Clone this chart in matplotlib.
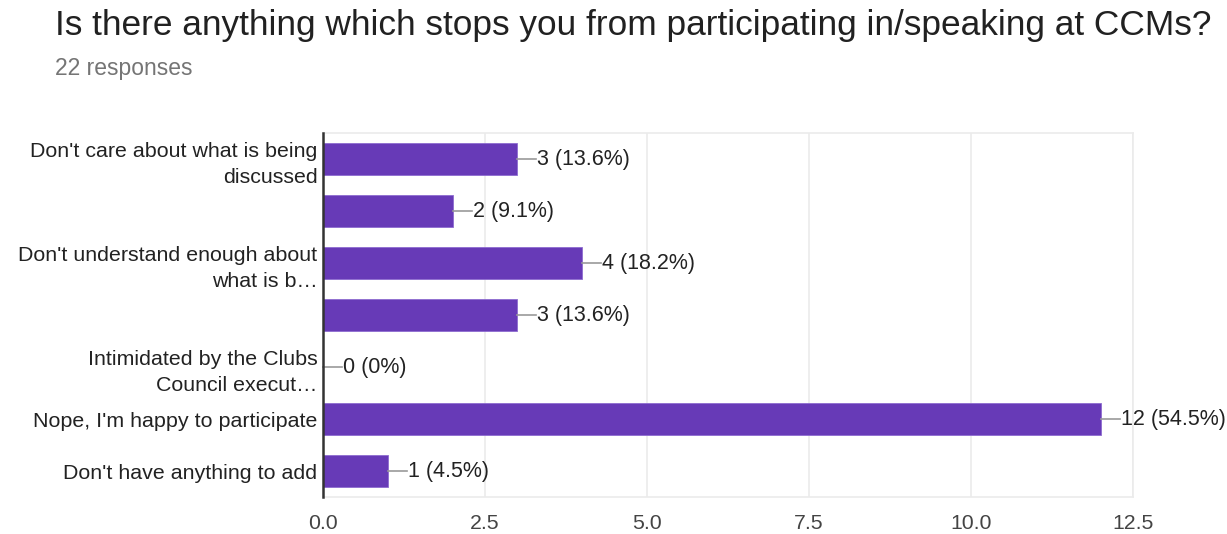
import matplotlib
matplotlib.use("Agg")
import matplotlib.pyplot as plt

plt.rcParams['font.family'] = ['Liberation Sans', 'DejaVu Sans']

title = "Is there anything which stops you from participating in/speaking at CCMs?"
subtitle = "22 responses"
categories = [
    "Don't care about what is being\ndiscussed",
    "",
    "Don't understand enough about\nwhat is b…",
    "",
    "Intimidated by the Clubs\nCouncil execut…",
    "Nope, I'm happy to participate",
    "Don't have anything to add",
]
counts = [3, 2, 4, 3, 0, 12, 1]
percent_labels = ["13.6%", "9.1%", "18.2%", "13.6%", "0%", "54.5%", "4.5%"]
xticks = [0, 2.5, 5, 7.5, 10, 12.5]
xtick_labels = ["0.0", "2.5", "5.0", "7.5", "10.0", "12.5"]

W, H = 1227, 534
fig = plt.figure(figsize=(W / 100, H / 100), dpi=100)
ax = fig.add_axes([323 / W, 1 - 497 / H, (1133 - 323) / W, (497 - 133) / H])

y = list(range(len(categories)))
ax.barh(y, counts, height=0.62, color="#673ab7", edgecolor="#8e6bd0", linewidth=0.6, zorder=3)
ax.set_ylim(len(categories) - 0.5, -0.5)
ax.set_xlim(0, 12.5)
ax.set_xticks(xticks)
ax.set_xticklabels(xtick_labels, fontsize=15.3, color="#444444")
ax.set_yticks(y)
ax.set_yticklabels(categories, fontsize=15.4, color="#222222", linespacing=1.45)
ax.tick_params(axis="both", length=0, pad=4)
ax.tick_params(axis="x", pad=12)
ax.grid(axis="x", color="#ebebeb", linewidth=1.2, zorder=0)
for s in ["top", "right", "bottom"]:
    ax.spines[s].set_color("#ebebeb")
    ax.spines[s].set_linewidth(1.2)
ax.spines["left"].set_color("#333333")
ax.spines["left"].set_linewidth(1.8)
ax.spines["left"].set_zorder(5)

px = 12.5 / (1133 - 323)
for yi, c, p in zip(y, counts, percent_labels):
    ax.plot([c, c + 19 * px], [yi, yi], color="#999999", linewidth=1.2, zorder=4, clip_on=False)
    ax.text(c + 20 * px, yi, f"{c} ({p})", va="center", ha="left", fontsize=15.5,
            color="#222222", clip_on=False)

fig.text(55 / W, 1 - 26 / H, title, fontsize=25.4, color="#212121", va="center", ha="left")
fig.text(55 / W, 1 - 68 / H, subtitle, fontsize=16.5, color="#757575", va="center", ha="left")

fig.savefig("out.png", dpi=100)
